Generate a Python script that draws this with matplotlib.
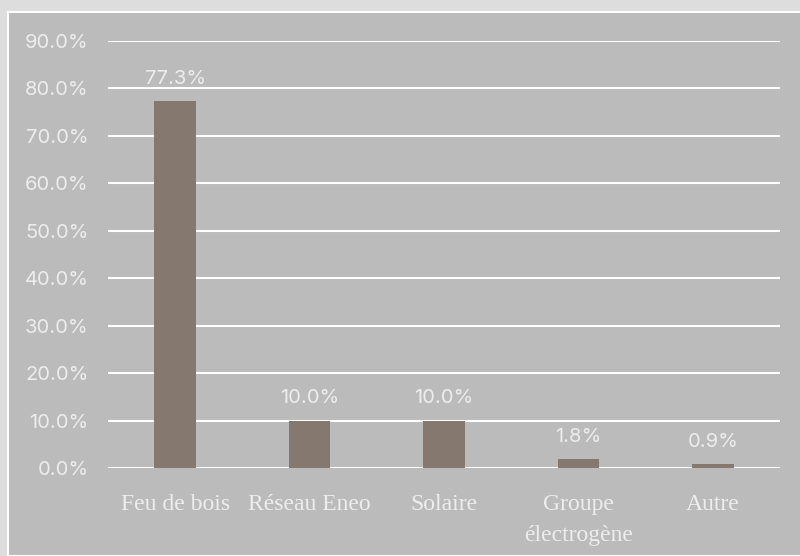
import matplotlib.pyplot as plt
from matplotlib.patches import Rectangle
from matplotlib.ticker import PercentFormatter

# Sources d'énergie et parts (%)
categories = ["Feu de bois", "Réseau Eneo", "Solaire", "Groupe\nélectrogène", "Autre"]
valeurs = [77.3, 10.0, 10.0, 1.8, 0.9]

fig = plt.figure(figsize=(8, 5.56), dpi=100)
fig.patch.set_facecolor("#DDDDDD")

# panneau gris avec bord blanc
fig.patches.append(Rectangle((8 / 800, 0), 1, 1 - 12 / 556, transform=fig.transFigure,
                             facecolor="#BBBBBB", edgecolor="white", linewidth=1.5, zorder=-10))

ax = fig.add_axes([108 / 800, 1 - 468 / 556, 672 / 800, 427 / 556])
ax.set_facecolor("none")

x = range(len(categories))
bars = ax.bar(x, valeurs, width=0.31, color="#84786F", zorder=3)

for b, v in zip(bars, valeurs):
    ax.annotate(f"{v:.1f}%", (b.get_x() + b.get_width() / 2, v), xytext=(0, 16),
                textcoords="offset points", ha="center", va="center",
                fontsize=14.5, color="#EDEDED", family="Inter")

ax.set_xlim(-0.5, 4.5)
ax.set_ylim(0, 90)
ax.set_yticks(range(0, 91, 10))
ax.yaxis.set_major_formatter(PercentFormatter(decimals=1))
ax.grid(axis="y", color="white", linewidth=1.5, zorder=1)
ax.set_axisbelow(True)
for s in ax.spines.values():
    s.set_visible(False)

ax.set_xticks(list(x))
ax.set_xticklabels(categories, family="Liberation Serif", fontsize=17, color="#EDEDED",
                   linespacing=1.6, va="top")
ax.tick_params(axis="x", length=0, pad=19)
ax.tick_params(axis="y", length=0, pad=14, labelsize=14.5, labelcolor="#EDEDED")
for t in ax.get_yticklabels():
    t.set_family("Inter")

plt.savefig("out.png", facecolor=fig.get_facecolor())
